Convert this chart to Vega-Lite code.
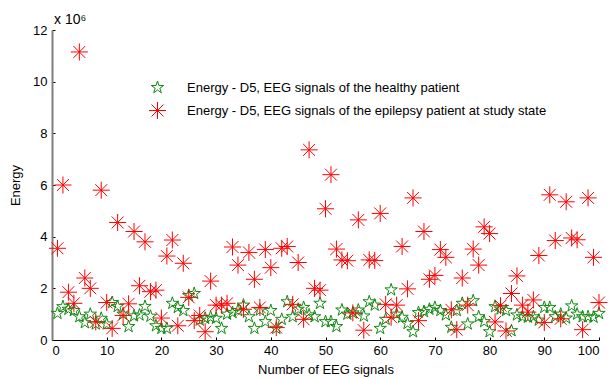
{
  "$schema": "https://vega.github.io/schema/vega-lite/v6.json",
  "width": 547,
  "height": 310,
  "autosize": "none",
  "padding": {"left": 52, "top": 30, "right": 11, "bottom": 38},
  "background": "white",
  "config": {
    "view": {"stroke": null},
    "font": "Liberation Sans",
    "axis": {"grid": false, "labelFontSize": 13, "labelColor": "black", "titleFontSize": 13, "titleFontWeight": "normal", "titleColor": "black", "tickColor": "black", "domainColor": "black", "labelFont": "Liberation Sans", "titleFont": "Liberation Sans"}
  },
  "title": {"text": "x 10⁶", "anchor": "start", "frame": "group", "fontSize": 14, "fontWeight": "normal", "font": "Liberation Sans", "color": "black", "dx": 2, "dy": 22, "offset": 5, "baseline": "bottom"},
  "data": {"values": [
    {"n":1,"h":1.03,"e":3.55},{"n":2,"h":1.29,"e":6.0},{"n":3,"h":1.19,"e":1.85},{"n":4,"h":1.14,"e":1.42},{"n":5,"h":0.9,"e":11.15},
    {"n":6,"h":0.67,"e":2.4},{"n":7,"h":1.0,"e":2.0},{"n":8,"h":0.62,"e":0.7},{"n":9,"h":0.84,"e":5.8},{"n":10,"h":0.62,"e":1.45},
    {"n":11,"h":1.45,"e":0.45},{"n":12,"h":1.3,"e":4.55},{"n":13,"h":1.0,"e":0.95},{"n":14,"h":0.52,"e":1.4},{"n":15,"h":0.93,"e":4.2},
    {"n":16,"h":0.97,"e":2.1},{"n":17,"h":1.3,"e":3.8},{"n":18,"h":0.92,"e":1.87},{"n":19,"h":0.55,"e":1.93},{"n":20,"h":0.45,"e":0.85},
    {"n":21,"h":0.45,"e":3.25},{"n":22,"h":1.42,"e":3.87},{"n":23,"h":1.26,"e":0.55},{"n":24,"h":1.14,"e":2.97},{"n":25,"h":1.72,"e":1.65},
    {"n":26,"h":1.8,"e":0.75},{"n":27,"h":0.77,"e":0.95},{"n":28,"h":0.84,"e":0.32},{"n":29,"h":0.88,"e":2.28},{"n":30,"h":0.84,"e":1.35},
    {"n":31,"h":0.45,"e":1.35},{"n":32,"h":1.0,"e":1.42},{"n":33,"h":1.06,"e":3.6},{"n":34,"h":1.14,"e":2.9},{"n":35,"h":1.35,"e":1.19},
    {"n":36,"h":0.9,"e":3.39},{"n":37,"h":0.45,"e":2.35},{"n":38,"h":1.16,"e":1.26},{"n":39,"h":0.71,"e":3.5},{"n":40,"h":1.14,"e":2.8},
    {"n":41,"h":0.45,"e":0.48},{"n":42,"h":0.8,"e":3.55},{"n":43,"h":1.48,"e":3.62},{"n":44,"h":0.9,"e":1.38},{"n":45,"h":1.19,"e":3.0},
    {"n":46,"h":1.26,"e":0.8},{"n":47,"h":0.97,"e":7.36},{"n":48,"h":0.9,"e":2.0},{"n":49,"h":1.42,"e":1.93},{"n":50,"h":0.71,"e":5.08},
    {"n":51,"h":0.71,"e":6.4},{"n":52,"h":0.52,"e":3.52},{"n":53,"h":1.16,"e":3.1},{"n":54,"h":1.0,"e":3.07},{"n":55,"h":1.05,"e":1.05},
    {"n":56,"h":1.16,"e":4.65},{"n":57,"h":0.93,"e":0.38},{"n":58,"h":1.48,"e":3.1},{"n":59,"h":1.35,"e":3.08},{"n":60,"h":0.45,"e":4.9},
    {"n":61,"h":0.8,"e":1.38},{"n":62,"h":1.94,"e":0.88},{"n":63,"h":1.0,"e":1.35},{"n":64,"h":0.88,"e":3.62},{"n":65,"h":0.64,"e":1.98},
    {"n":66,"h":0.32,"e":5.5},{"n":67,"h":1.06,"e":0.75},{"n":68,"h":1.1,"e":4.2},{"n":69,"h":1.19,"e":2.35},{"n":70,"h":1.26,"e":2.5},
    {"n":71,"h":1.14,"e":3.5},{"n":72,"h":0.97,"e":3.2},{"n":73,"h":0.49,"e":1.17},{"n":74,"h":1.14,"e":0.4},{"n":75,"h":1.42,"e":2.4},
    {"n":76,"h":0.62,"e":1.35},{"n":77,"h":1.52,"e":3.52},{"n":78,"h":0.9,"e":2.9},{"n":79,"h":0.71,"e":4.38},{"n":80,"h":0.32,"e":4.12},
    {"n":81,"h":1.29,"e":0.7},{"n":82,"h":1.2,"e":1.33},{"n":83,"h":1.14,"e":0.35},{"n":84,"h":0.36,"e":1.8},{"n":85,"h":0.97,"e":2.48},
    {"n":86,"h":0.9,"e":1.35},{"n":87,"h":0.88,"e":1.08},{"n":88,"h":0.9,"e":1.55},{"n":89,"h":0.77,"e":3.27},{"n":90,"h":1.26,"e":0.68},
    {"n":91,"h":1.26,"e":5.62},{"n":92,"h":0.9,"e":3.85},{"n":93,"h":1.0,"e":0.82},{"n":94,"h":0.85,"e":5.35},{"n":95,"h":1.32,"e":3.95},
    {"n":96,"h":1.0,"e":3.88},{"n":97,"h":0.9,"e":0.4},{"n":98,"h":0.9,"e":5.5},{"n":99,"h":0.88,"e":3.2},{"n":100,"h":1.03,"e":1.45}
  ]},
  "transform": [{"fold": ["h", "e"], "as": ["k", "v"]}],
  "mark": {"type": "point", "filled": false, "strokeWidth": 1, "opacity": 1},
  "encoding": {
    "x": {"field": "n", "type": "quantitative", "scale": {"domain": [0, 100], "nice": false},
      "axis": {"title": "Number of EEG signals", "values": [0,10,20,30,40,50,60,70,80,90,100], "tickSize": -3, "labelPadding": 7, "titlePadding": 6, "domainColor": "black"}},
    "y": {"field": "v", "type": "quantitative", "scale": {"domain": [0, 12], "nice": false},
      "axis": {"title": "Energy", "values": [0,2,4,6,8,10,12], "tickSize": -3, "labelPadding": 8, "titlePadding": 10, "domainColor": "#7f7f7f", "domainWidth": 2}},
    "color": {"field": "k", "type": "nominal", "scale": {"domain": ["h", "e"], "range": ["#118811", "#ff0000"]},
      "legend": {"title": null, "orient": "none", "legendX": 96, "legendY": 50, "labelFontSize": 13, "labelColor": "black", "labelFont": "Liberation Sans", "labelOffset": 20, "labelLimit": 0, "rowPadding": 4, "symbolStrokeWidth": 1,
        "labelExpr": "datum.label == 'h' ? 'Energy - D5, EEG signals of the healthy patient' : 'Energy - D5, EEG signals of the epilepsy patient at study state'"}},
    "shape": {"field": "k", "type": "nominal", "scale": {"domain": ["h", "e"], "range": ["M0,-1L0.2245,-0.309L0.951,-0.309L0.363,0.118L0.588,0.809L0,0.382L-0.588,0.809L-0.363,0.118L-0.951,-0.309L-0.2245,-0.309Z", "M-1,0L1,0M0,-1L0,1M-0.7,-0.7L0.7,0.7M-0.7,0.7L0.7,-0.7"]}},
    "size": {"field": "k", "type": "nominal", "scale": {"domain": ["h", "e"], "range": [170, 290]}},
    "order": {"field": "k", "sort": "descending"}
  }
}
